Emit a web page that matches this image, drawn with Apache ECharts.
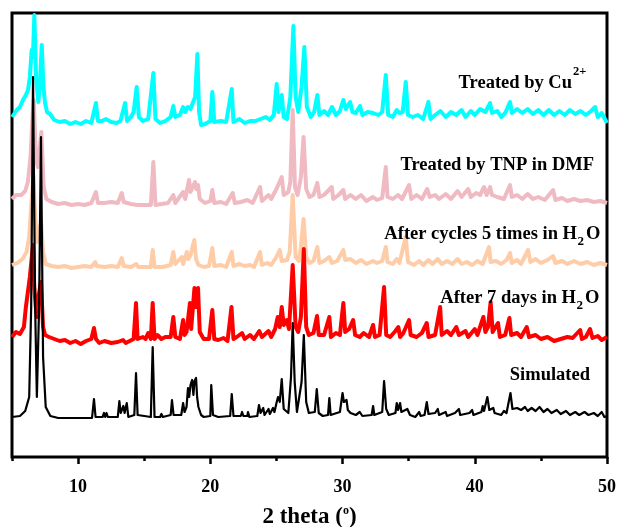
<!DOCTYPE html>
<html>
<head>
<meta charset="utf-8">
<script src="https://cdn.jsdelivr.net/npm/echarts@6/dist/echarts.min.js"></script>
<style>html,body{margin:0;padding:0;background:#fff}#c{width:619px;height:527px}</style>
</head>
<body>
<div id="c"></div>
<script>
// ---- data (2 theta in degrees, intensity in arbitrary stacked units) ----
const majorTicks = [10, 20, 30, 40, 50];
const minorTicks = [5, 15, 25, 35, 45];
const axisTitle = '2 theta';

const simulated = [[5,40],[5.6,41],[6.0,46],[6.3,60],[6.45,150],[6.59,380],[6.75,150],[6.88,60],[7.05,150],[7.19,320],[7.35,100],[7.55,50],[7.9,41],[8.5,39],[11.05,39],[11.2,58],[11.32,40],[11.85,40],[11.96,44],[12.05,40],[12.15,44],[12.25,40],[13.0,40],[13.12,56],[13.22,44],[13.42,51],[13.52,44],[13.68,54],[13.8,40],[14.25,42],[14.38,84],[14.5,42],[15.5,40],[15.64,110],[15.78,40],[16.2,40],[16.3,43],[16.4,40],[17.0,42],[17.1,57],[17.22,42],[17.8,42],[17.94,54],[18.05,45],[18.2,50],[18.31,69],[18.4,60],[18.5,72],[18.62,77],[18.72,62],[18.8,76],[18.92,79],[19.0,60],[19.1,50],[19.3,42],[19.5,40],[20.0,41],[20.07,72],[20.2,42],[20.6,40],[21.5,41],[21.62,63],[21.75,41],[22.3,41],[22.4,45],[22.5,41],[22.8,41],[22.85,45],[22.95,40],[23.55,41],[23.68,52],[23.8,44],[24.0,49],[24.1,42],[24.4,48],[24.5,43],[24.74,49],[24.85,45],[25.02,55],[25.12,60],[25.25,55],[25.4,78],[25.55,48],[25.9,44],[26.1,80],[26.23,134],[26.38,75],[26.55,45],[26.7,45],[26.9,75],[27.07,122],[27.25,55],[27.45,44],[27.6,42],[27.9,45],[28.05,68],[28.2,44],[28.5,41],[28.9,42],[29.0,59],[29.1,42],[29.8,45],[30.0,64],[30.1,55],[30.3,57],[30.4,47],[30.6,44],[31.0,42],[31.3,45],[31.5,41],[32.2,42],[32.31,51],[32.4,42],[33.0,45],[33.14,76],[33.3,48],[33.5,42],[34.0,44],[34.1,54],[34.2,47],[34.35,54],[34.45,45],[34.6,44],[34.9,48],[35.1,42],[35.5,40],[35.8,45],[35.9,41],[36.2,42],[36.37,55],[36.5,43],[37.0,44],[37.2,48],[37.3,42],[37.8,45],[37.9,41],[38.5,44],[38.8,48],[38.9,42],[39.6,44],[39.8,47],[39.9,42],[40.5,45],[40.6,51],[40.7,46],[40.95,60],[41.1,47],[41.4,49],[41.5,44],[42.0,42],[42.2,46],[42.4,44],[42.7,64],[42.85,48],[43.2,49],[43.5,47],[43.8,50],[44.0,46],[44.3,49],[44.6,46],[44.9,50],[45.2,45],[45.5,48],[45.8,44],[46.2,47],[46.5,43],[46.9,46],[47.2,42],[47.6,45],[47.9,42],[48.3,45],[48.6,42],[49.0,44],[49.3,41],[49.6,45],[49.8,40],[50,41]];

const after7days = [[5,120],[5.3,125],[5.6,123],[5.9,130],[6.05,150],[6.2,165],[6.35,180],[6.5,200],[6.59,212],[6.68,170],[6.8,150],[6.9,140],[7.0,160],[7.19,175],[7.35,130],[7.5,122],[7.8,120],[8.2,118],[8.6,116],[9.0,117],[9.4,114],[9.8,116],[10.2,113],[10.6,116],[11.0,118],[11.2,129],[11.35,118],[11.6,114],[12.0,116],[12.5,114],[13.0,115],[13.4,117],[13.6,114],[14.2,118],[14.38,154],[14.5,118],[14.9,120],[15.1,118],[15.3,124],[15.5,118],[15.64,154],[15.78,118],[16.0,122],[16.3,118],[16.6,120],[17.0,120],[17.2,140],[17.35,120],[17.7,118],[17.94,137],[18.05,122],[18.2,125],[18.46,154],[18.55,128],[18.8,169],[18.92,150],[19.07,169],[19.2,125],[19.5,118],[19.9,118],[20.15,147],[20.3,118],[20.6,117],[21.0,119],[21.3,116],[21.6,150],[21.75,118],[22.0,120],[22.4,124],[22.6,118],[23.0,122],[23.3,118],[23.7,126],[23.9,120],[24.4,126],[24.6,120],[24.9,128],[25.1,140],[25.25,130],[25.4,150],[25.55,132],[25.78,137],[25.95,128],[26.23,192],[26.45,130],[26.65,125],[26.85,140],[27.07,208],[27.25,130],[27.45,122],[27.8,124],[28.07,141],[28.2,122],[28.6,122],[29.0,140],[29.12,120],[29.5,124],[29.8,122],[30.06,154],[30.2,125],[30.5,128],[30.8,137],[30.95,122],[31.3,120],[31.6,124],[32.0,120],[32.31,132],[32.45,120],[32.8,122],[33.14,170],[33.3,122],[33.6,120],[34.0,126],[34.22,130],[34.35,120],[34.6,124],[35.03,137],[35.15,122],[35.6,120],[36.0,124],[36.37,134],[36.5,120],[37.0,122],[37.38,150],[37.5,122],[37.9,126],[38.2,122],[38.6,130],[38.8,122],[39.3,126],[39.5,120],[40.0,128],[40.2,122],[40.65,140],[40.8,125],[41.0,130],[41.2,155],[41.35,125],[41.76,134],[41.9,120],[42.3,122],[42.62,139],[42.75,122],[43.2,124],[43.5,120],[43.93,130],[44.1,120],[44.6,122],[45.0,118],[45.5,120],[46.0,116],[46.5,118],[47.0,120],[47.4,119],[47.97,127],[48.1,118],[48.4,120],[48.72,128],[48.9,119],[49.3,121],[49.6,117],[50,120]];

const afterCycles = [[5,192],[5.4,194],[5.8,198],[6.1,205],[6.3,220],[6.45,250],[6.62,282],[6.75,240],[6.9,215],[7.05,225],[7.2,235],[7.35,205],[7.55,193],[8.0,191],[8.5,190],[9.0,191],[9.5,189],[10.0,190],[10.5,191],[11.0,190],[11.3,195],[11.4,191],[12.0,190],[12.5,191],[13.0,190],[13.3,199],[13.45,191],[14.0,190],[14.4,193],[14.55,190],[15.5,190],[15.64,207],[15.78,190],[16.4,190],[17.0,192],[17.2,205],[17.35,193],[17.84,200],[17.95,193],[18.22,205],[18.35,198],[18.5,202],[18.79,217],[18.92,198],[19.1,192],[19.5,190],[19.9,191],[20.15,209],[20.3,191],[20.8,192],[21.2,190],[21.62,205],[21.75,191],[22.2,193],[22.6,191],[23.0,192],[23.3,190],[23.76,205],[23.9,192],[24.3,194],[24.6,192],[25.0,200],[25.25,207],[25.4,196],[25.8,197],[26.0,205],[26.23,262],[26.45,200],[26.7,196],[26.85,210],[27.05,238],[27.25,200],[27.5,194],[27.8,196],[28.09,210],[28.25,194],[28.6,196],[29.0,200],[29.2,194],[29.6,196],[30.06,207],[30.2,197],[30.6,198],[31.0,194],[31.4,197],[31.8,193],[32.3,196],[32.6,194],[33.0,196],[33.27,210],[33.4,195],[33.8,193],[34.1,198],[34.3,194],[34.78,220],[34.95,195],[35.4,192],[35.8,196],[36.1,192],[36.5,197],[36.8,193],[37.2,198],[37.5,193],[37.9,196],[38.3,193],[38.7,198],[39.0,193],[39.4,195],[39.8,192],[40.2,196],[40.6,193],[41.08,210],[41.2,195],[41.6,196],[42.0,193],[42.4,197],[42.67,204],[42.8,194],[43.2,197],[43.5,193],[44.03,207],[44.2,195],[44.6,198],[45.0,194],[45.5,197],[45.92,201],[46.1,194],[46.6,196],[47.0,193],[47.5,196],[48.0,193],[48.5,195],[49.0,192],[49.5,194],[50,192]];

const treatedTNP = [[5,258],[5.3,262],[5.7,262],[6.0,266],[6.2,275],[6.4,300],[6.55,340],[6.65,357],[6.8,300],[6.95,290],[7.1,310],[7.22,325],[7.4,270],[7.6,258],[8.0,255],[8.5,253],[9.0,254],[9.5,252],[10.0,253],[10.5,252],[11.0,254],[11.35,265],[11.5,254],[12.0,254],[12.5,255],[13.0,254],[13.3,264],[13.45,255],[14.0,253],[14.5,252],[15.0,252],[15.5,252],[15.69,295],[15.85,252],[16.3,253],[16.8,254],[17.2,262],[17.35,254],[17.94,265],[18.1,258],[18.39,277],[18.5,265],[18.84,275],[18.95,268],[19.07,272],[19.2,258],[19.6,254],[20.0,256],[20.15,267],[20.3,254],[20.8,255],[21.2,253],[21.69,264],[21.85,254],[22.3,255],[22.8,257],[23.2,254],[23.76,270],[23.9,256],[24.4,262],[24.6,258],[25.0,268],[25.4,280],[25.55,262],[25.9,265],[26.05,275],[26.23,347],[26.4,270],[26.6,262],[26.85,280],[27.05,320],[27.25,268],[27.5,260],[27.8,262],[28.09,274],[28.25,260],[28.6,262],[29.18,270],[29.3,258],[29.7,262],[30.06,267],[30.2,258],[30.6,262],[31.0,258],[31.4,262],[31.8,256],[32.3,260],[32.6,257],[33.0,259],[33.27,290],[33.4,260],[33.8,258],[34.2,262],[34.5,258],[35.03,272],[35.2,258],[35.6,262],[36.0,258],[36.4,268],[36.6,260],[37.0,262],[37.3,258],[37.8,263],[38.2,258],[38.7,266],[39.0,260],[39.5,268],[39.7,260],[40.1,264],[40.4,262],[40.7,270],[40.9,262],[41.16,270],[41.3,262],[41.7,260],[42.2,258],[42.67,272],[42.8,260],[43.2,262],[43.6,258],[44.0,263],[44.4,258],[44.8,260],[45.3,257],[45.92,267],[46.1,257],[46.6,259],[47.0,256],[47.5,258],[48.0,256],[48.5,257],[49.0,255],[49.5,256],[50,254]];

const treatedCu = [[5,340],[5.36,347],[5.6,350],[5.83,357],[6.05,362],[6.21,367],[6.35,380],[6.49,407],[6.58,400],[6.69,442],[6.82,380],[6.99,355],[7.1,370],[7.25,412],[7.38,370],[7.5,354],[7.65,345],[7.87,343],[8.2,337],[8.6,335],[9.0,336],[9.4,333],[9.8,335],[10.2,333],[10.6,336],[11.0,334],[11.35,354],[11.5,336],[11.8,336],[12.1,338],[12.5,335],[12.9,334],[13.2,336],[13.55,354],[13.7,336],[14.0,340],[14.2,345],[14.43,370],[14.6,340],[14.9,336],[15.3,338],[15.69,384],[15.85,338],[16.2,334],[16.6,336],[17.0,340],[17.2,351],[17.35,340],[17.7,342],[17.94,350],[18.1,345],[18.3,350],[18.5,348],[18.7,355],[18.85,360],[19.02,403],[19.15,345],[19.3,332],[19.6,333],[20.0,336],[20.15,365],[20.3,335],[20.8,336],[21.2,335],[21.62,368],[21.75,335],[22.2,338],[22.6,334],[23.0,336],[23.4,336],[23.8,338],[24.2,340],[24.5,337],[24.8,342],[25.02,373],[25.15,345],[25.4,362],[25.55,340],[25.8,338],[26.05,360],[26.28,431],[26.45,360],[26.65,345],[26.9,370],[27.11,410],[27.3,350],[27.6,340],[27.85,345],[28.09,362],[28.25,342],[28.6,346],[28.9,342],[29.2,350],[29.5,342],[29.8,346],[30.06,357],[30.25,348],[30.57,355],[30.75,345],[31.0,344],[31.32,351],[31.5,342],[31.9,345],[32.3,344],[32.7,342],[33.0,345],[33.27,382],[33.45,342],[33.8,340],[34.1,347],[34.3,344],[34.55,345],[34.78,375],[34.95,342],[35.3,340],[35.7,342],[36.1,338],[36.49,355],[36.65,338],[37.0,342],[37.4,346],[37.8,340],[38.2,345],[38.6,342],[39.0,347],[39.3,340],[39.7,346],[40.0,342],[40.4,348],[40.8,345],[41.16,354],[41.3,344],[41.7,346],[42.0,340],[42.3,344],[42.67,355],[42.8,344],[43.2,348],[43.6,344],[44.0,348],[44.4,343],[44.8,347],[45.2,342],[45.6,347],[46.0,342],[46.4,346],[46.8,342],[47.2,347],[47.6,343],[48.0,346],[48.4,342],[48.8,346],[49.1,350],[49.3,340],[49.6,344],[50,334]];

const seriesNames = ['Treated by Cu2+', 'Treated by TNP in DMF', 'After cycles 5 times in H2O', 'After 7 days in H2O', 'Simulated'];
const seriesColors = ['#00FFFF', '#EFBAC1', '#FFCCA8', '#FF0000', '#000000'];

// ---- chart ----
const FONT = '"Liberation Serif", "Times New Roman", serif';
const chart = echarts.init(document.getElementById('c'), null, {renderer: 'canvas'});

function txt(x, y, text, size, align) {
  return {type: 'text', x: x, y: y, z: 100,
    style: {text: text, align: align || 'right', verticalAlign: 'middle',
      fontSize: size, fontWeight: 'bold', fontFamily: FONT, fill: '#000'}};
}

const LS = 18.5;
const graphics = [
  txt(572, 83, 'Treated by Cu', LS), txt(573, 72, '2+', 12.5, 'left'),
  txt(594, 165, 'Treated by TNP in DMF', LS),
  txt(577, 234, 'After cycles 5 times in H', LS), txt(577.5, 242, '2', 13, 'left'), txt(586, 234, 'O', LS, 'left'),
  txt(576, 298, 'After 7 days in H', LS), txt(576.5, 306, '2', 13, 'left'), txt(585, 298, 'O', LS, 'left'),
  txt(590, 375, 'Simulated', LS)
];

const dataSets = [treatedCu, treatedTNP, afterCycles, after7days, simulated];

chart.setOption({
  animation: false,
  backgroundColor: '#fff',
  grid: {left: 12, right: 12, top: 13, bottom: 70, show: true, borderColor: '#000', borderWidth: 3,
    backgroundColor: 'transparent', outerBoundsMode: 'none', containLabel: false},
  xAxis: [{
    type: 'value', min: 5, max: 50, position: 'bottom',
    name: axisTitle + ' ({sup|o})', nameLocation: 'middle', nameGap: 48,
    nameTextStyle: {fontSize: 23, fontWeight: 'bold', fontFamily: FONT, color: '#000',
      rich: {sup: {fontSize: 12, fontWeight: 'bold', fontFamily: FONT, color: '#000', verticalAlign: 'top', lineHeight: 24}}},
    axisLine: {show: false},
    splitLine: {show: false},
    axisTick: {show: true, inside: false, length: 7, lineStyle: {color: '#000', width: 2.5}, customValues: majorTicks},
    axisLabel: {show: true, margin: 21, fontSize: 18, fontWeight: 'bold', fontFamily: FONT, color: '#000',
      customValues: majorTicks, formatter: v => String(v)}
  }, {
    type: 'value', min: 5, max: 50, position: 'bottom', gridIndex: 0,
    axisLine: {show: false}, splitLine: {show: false},
    axisTick: {show: true, inside: false, length: 4, lineStyle: {color: '#000', width: 2.5}, customValues: minorTicks},
    axisLabel: {show: false}
  }],
  yAxis: {type: 'value', min: 0, max: 444, show: false, splitLine: {show: false}},
  graphic: graphics,
  series: dataSets.map((d, i) => ({
    name: seriesNames[i], type: 'line', data: d, showSymbol: false, symbol: 'none',
    xAxisIndex: 0, yAxisIndex: 0,
    lineStyle: {color: seriesColors[i], width: i === 4 ? 2.2 : 4, join: 'round'},
    itemStyle: {color: seriesColors[i]}, z: 2 + i, clip: true
  }))
});
</script>
</body>
</html>
